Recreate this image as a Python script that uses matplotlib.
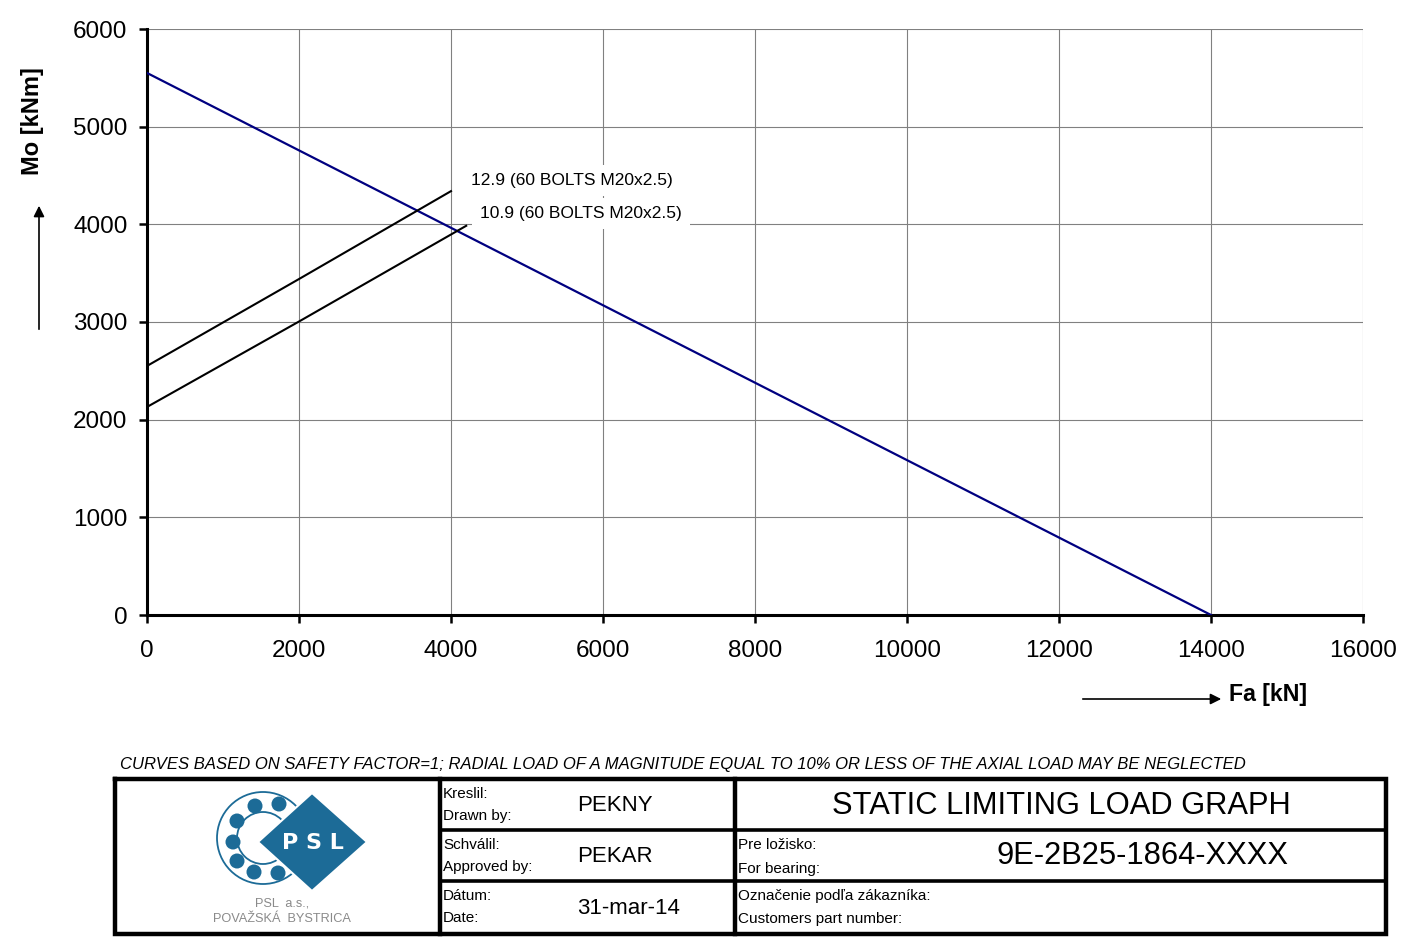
import matplotlib
matplotlib.use("Agg")
import matplotlib.pyplot as plt
from matplotlib.patches import Circle, Polygon

plt.rcParams["font.family"] = ["Liberation Sans", "DejaVu Sans"]

# --- data -------------------------------------------------------------------
fa_limit = [0, 14000]
mo_limit = [5550, 0]

fa_129 = [0, 2000, 4000]
mo_129 = [2550, 3440, 4340]

fa_109 = [0, 2000, 4200]
mo_109 = [2130, 3005, 3985]

label_129 = "12.9 (60 BOLTS M20x2.5)"
label_109 = "10.9 (60 BOLTS M20x2.5)"

xticks = list(range(0, 16001, 2000))
yticks = list(range(0, 6001, 1000))

note = ("CURVES BASED ON SAFETY FACTOR=1; RADIAL LOAD OF A MAGNITUDE EQUAL TO "
        "10% OR LESS OF THE AXIAL LOAD MAY BE NEGLECTED")

W, H = 1428, 950
fig = plt.figure(figsize=(W / 100, H / 100), dpi=100)
fig.patch.set_facecolor("white")

ax = fig.add_axes([147 / W, 1 - 615 / H, (1363 - 147) / W, (615 - 29) / H])
ax.plot(fa_limit, mo_limit, color="#000080", lw=1.6, zorder=3)
ax.plot(fa_129, mo_129, color="black", lw=1.5, zorder=3)
ax.plot(fa_109, mo_109, color="black", lw=1.5, zorder=3)

ax.set_xlim(0, 16000)
ax.set_ylim(0, 6000)
ax.set_xticks(xticks)
ax.set_yticks(yticks)
ax.grid(True, color="#808080", lw=0.8)
ax.set_axisbelow(True)
for s in ("top", "right"):
    ax.spines[s].set_visible(False)
for s in ("left", "bottom"):
    ax.spines[s].set_linewidth(2.2)
ax.tick_params(direction="out", length=6, width=1.8, labelsize=17.5)
ax.tick_params(axis="x", pad=12)
ax.tick_params(axis="y", pad=8)

bbox = dict(facecolor="white", edgecolor="none", pad=6)
ax.text(4260, 4450, label_129, fontsize=12.5, va="center", ha="left", bbox=bbox, zorder=4)
ax.text(4380, 4110, label_109, fontsize=12.5, va="center", ha="left", bbox=bbox, zorder=4)

# --- overlay in pixel coordinates for titles, arrows and the title block -----
ov = fig.add_axes([0, 0, 1, 1], zorder=-1)
ov.set_xlim(0, W)
ov.set_ylim(H, 0)
ov.axis("off")
ov.patch.set_alpha(0)

ov.text(32, 121, "Mo [kNm]", rotation=90, fontsize=17, fontweight="bold",
        ha="center", va="center")
ov.annotate("", xy=(39, 203), xytext=(39, 332),
            arrowprops=dict(arrowstyle="-|>", color="black", lw=1.2, mutation_scale=16))
ov.text(1229, 695, "Fa [kN]", fontsize=16.7, fontweight="bold", ha="left", va="center")
ov.annotate("", xy=(1224, 699), xytext=(1080, 699),
            arrowprops=dict(arrowstyle="-|>", color="black", lw=1.2, mutation_scale=16))

ov.text(120, 765, note, fontsize=12, style="italic", ha="left", va="center")

# title block frame
L, R, T, B = 115, 1386, 779, 934
c1, c2 = 440, 735
r1, r2 = 830, 881
lw_out = 3.2
ov.plot([L, R, R, L, L], [T, T, B, B, T], color="black", lw=lw_out,
        solid_joinstyle="miter")
ov.plot([c1, c1], [T, B], color="black", lw=lw_out)
ov.plot([c2, c2], [T, B], color="black", lw=lw_out)
ov.plot([c1, R], [r1, r1], color="black", lw=2.6)
ov.plot([c1, R], [r2, r2], color="black", lw=2.6)

small = 11
rows = [(r1 - T, T), (r2 - r1, r1), (B - r2, r2)]
left_labels = [("Kreslil:", "Drawn by:", "PEKNY"),
               ("Schválil:", "Approved by:", "PEKAR"),
               ("Dátum:", "Date:", "31-mar-14")]
for (h, top), (sk, en, val) in zip(rows, left_labels):
    ov.text(c1 + 3, top + 15, sk, fontsize=small, va="center", ha="left")
    ov.text(c1 + 3, top + 37, en, fontsize=small, va="center", ha="left")
    ov.text(577, top + h / 2 + 1, val, fontsize=16, va="center", ha="left")

ov.text(1061, (T + r1) / 2 + 1, "STATIC LIMITING LOAD GRAPH", fontsize=22.2,
        ha="center", va="center")
ov.text(c2 + 3, r1 + 15, "Pre ložisko:", fontsize=small, va="center")
ov.text(c2 + 3, r1 + 39, "For bearing:", fontsize=small, va="center")
ov.text(1142, (r1 + r2) / 2 + 1, "9E-2B25-1864-XXXX", fontsize=22.2, ha="center",
        va="center")
ov.text(c2 + 3, r2 + 15, "Označenie podľa zákazníka:", fontsize=small, va="center")
ov.text(c2 + 3, r2 + 38, "Customers part number:", fontsize=small, va="center")

# logo
blue = "#1c6b97"
cx, cy = 263, 838
ov.add_patch(Circle((cx, cy), 46, facecolor="none", edgecolor=blue, lw=1.3))
ov.add_patch(Circle((cx, cy), 26, facecolor="none", edgecolor=blue, lw=1.3))
for bx, by in [(255, 806), (279, 804), (237, 821), (233, 842),
               (237, 861), (254, 872), (278, 873)]:
    ov.add_patch(Circle((bx, by), 7.5, facecolor=blue, edgecolor="none"))
ov.add_patch(Polygon([(258, 842), (312, 793), (367, 842), (312, 891)],
                     closed=True, facecolor=blue, edgecolor="white", lw=1.5, zorder=3))
ov.text(313, 843, "P S L", fontsize=16, fontweight="bold", color="white",
        ha="center", va="center", zorder=4, family="DejaVu Sans")
ov.text(282, 903, "PSL  a.s.,", fontsize=9.2, color="#8a8a8a", ha="center", va="center")
ov.text(282, 919, "POVAŽSKÁ  BYSTRICA", fontsize=9.2, color="#8a8a8a",
        ha="center", va="center")

fig.savefig("out.png", dpi=100)
